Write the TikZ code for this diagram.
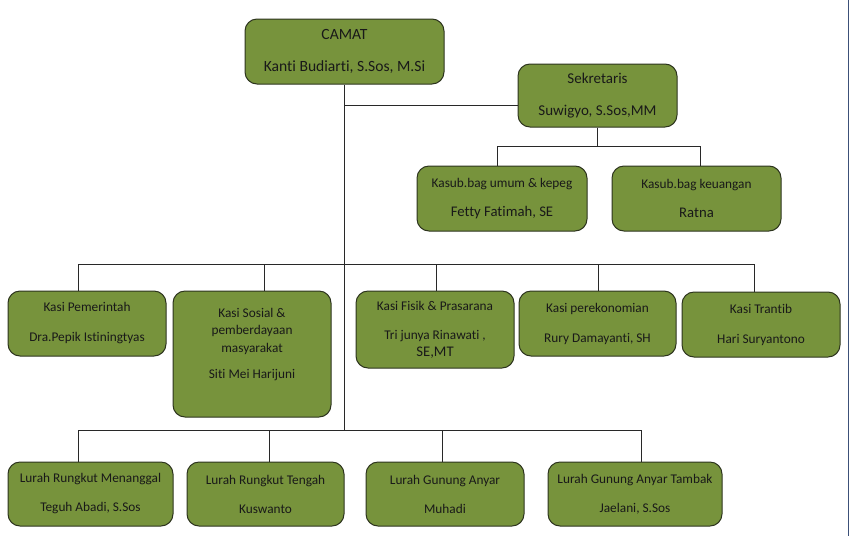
\documentclass[tikz,border=0pt]{standalone}
\usepackage{fontspec}
\setmainfont{Carlito}[Ligatures={NoCommon}]
\definecolor{olivefill}{RGB}{119,147,60}
\definecolor{boxline}{RGB}{45,52,30}
\definecolor{txt}{RGB}{25,25,25}
\definecolor{conncol}{RGB}{40,40,40}
\definecolor{framecol}{RGB}{60,80,120}
\begin{document}
\begin{tikzpicture}[x=1pt,y=-1pt,
  orgbox/.style={draw=boxline, fill=olivefill, rounded corners=12pt, line width=1pt,
    inner sep=0pt, align=center, text=txt, font=\fontsize{13.3}{17}\selectfont},
  conn/.style={draw=conncol, line width=0.9pt}]
\useasboundingbox (0,0) rectangle (850,536);
% boxes
\node[orgbox, minimum width=199pt, minimum height=65pt, font=\fontsize{15.6}{19}\selectfont] (camat) at (344.5,51.5) {CAMAT\\[13pt]Kanti Budiarti, S.Sos, M.Si};
\node[orgbox, minimum width=159pt, minimum height=63pt, font=\fontsize{15}{18}\selectfont] (sek) at (597.5,95.5) {Sekretaris\\[14pt]Suwigyo, S.Sos,MM};
\node[orgbox, minimum width=170pt, minimum height=65pt] (kasub1) at (502,198.5) {Kasub.bag umum \& kepeg\\[12pt]{\fontsize{14.7}{17}\selectfont Fetty Fatimah, SE}};
\node[orgbox, minimum width=169pt, minimum height=65pt] (kasub2) at (696.5,198.5) {Kasub.bag keuangan\\[12pt]{\fontsize{14.7}{17}\selectfont Ratna}};
\node[orgbox, minimum width=158pt, minimum height=65pt] (kasi1) at (87,323.5) {Kasi Pemerintah\\[13pt]Dra.Pepik Istiningtyas};
\node[orgbox, minimum width=158pt, minimum height=126pt, font=\fontsize{13.3}{17.5}\selectfont] (kasi2) at (252,354) {Kasi Sosial \&\\pemberdayaan\\masyarakat\\[9pt]Siti Mei Harijuni\\[4pt]\mbox{}};
\node[orgbox, minimum width=158pt, minimum height=77pt] (kasi3) at (435,329.5) {Kasi Fisik \& Prasarana\\[12pt]Tri junya Rinawati ,\\{\fontsize{14.7}{17}\selectfont SE,MT}};
\node[orgbox, minimum width=157pt, minimum height=65pt] (kasi4) at (597.5,323.5) {Kasi perekonomian\\[13pt]Rury Damayanti, SH};
\node[orgbox, minimum width=158pt, minimum height=65pt] (kasi5) at (761,324.5) {Kasi Trantib\\[13pt]Hari Suryantono};
\node[orgbox, minimum width=165pt, minimum height=64pt] (lurah1) at (90.5,494) {Lurah Rungkut Menanggal\\[12pt]Teguh Abadi, S.Sos};
\node[orgbox, minimum width=157pt, minimum height=64pt] (lurah2) at (265.5,494) {Lurah Rungkut Tengah\\[12pt]Kuswanto};
\node[orgbox, minimum width=158pt, minimum height=64pt] (lurah3) at (445,494) {Lurah Gunung Anyar\\[12pt]Muhadi};
\node[orgbox, minimum width=174pt, minimum height=64pt] (lurah4) at (635,494) {Lurah Gunung Anyar Tambak\\[12pt]Jaelani, S.Sos};
% junction coordinates
\coordinate (sj) at (344.5,105.5);
\coordinate (kb) at (597.5,146);
\coordinate (kbl) at (497,146);
\coordinate (kbr) at (700,146);
\coordinate (k1) at (78,264);
\coordinate (k2) at (264,264);
\coordinate (k3) at (436,264);
\coordinate (k4) at (598,264);
\coordinate (k5) at (754,264);
\coordinate (lbar) at (344.5,430);
\coordinate (l1) at (78,430);
\coordinate (l2) at (269,430);
\coordinate (l3) at (442,430);
\coordinate (l4) at (641,430);
% connectors
\draw[conn] (camat.south) -- (lbar);
\draw[conn] (sj) -- (sj -| sek.west);
\draw[conn] (sek.south) -- (kb);
\draw[conn] (kbl) -- (kbr);
\draw[conn] (kbl) -- (kbl |- kasub1.north);
\draw[conn] (kbr) -- (kbr |- kasub2.north);
\draw[conn] (k1) -- (k5);
\draw[conn] (k1) -- (k1 |- kasi1.north);
\draw[conn] (k2) -- (k2 |- kasi2.north);
\draw[conn] (k3) -- (k3 |- kasi3.north);
\draw[conn] (k4) -- (k4 |- kasi4.north);
\draw[conn] (k5) -- (k5 |- kasi5.north);
\draw[conn] (l1) -- (l4);
\draw[conn] (l1) -- (l1 |- lurah1.north);
\draw[conn] (l2) -- (l2 |- lurah2.north);
\draw[conn] (l3) -- (l3 |- lurah3.north);
\draw[conn] (l4) -- (l4 |- lurah4.north);
% right frame edge
\coordinate (ft) at (848.5,0);
\coordinate (fb) at (848.5,536);
\draw[draw=framecol, line width=1.6pt] (ft) -- (fb);
\end{tikzpicture}
\end{document}
